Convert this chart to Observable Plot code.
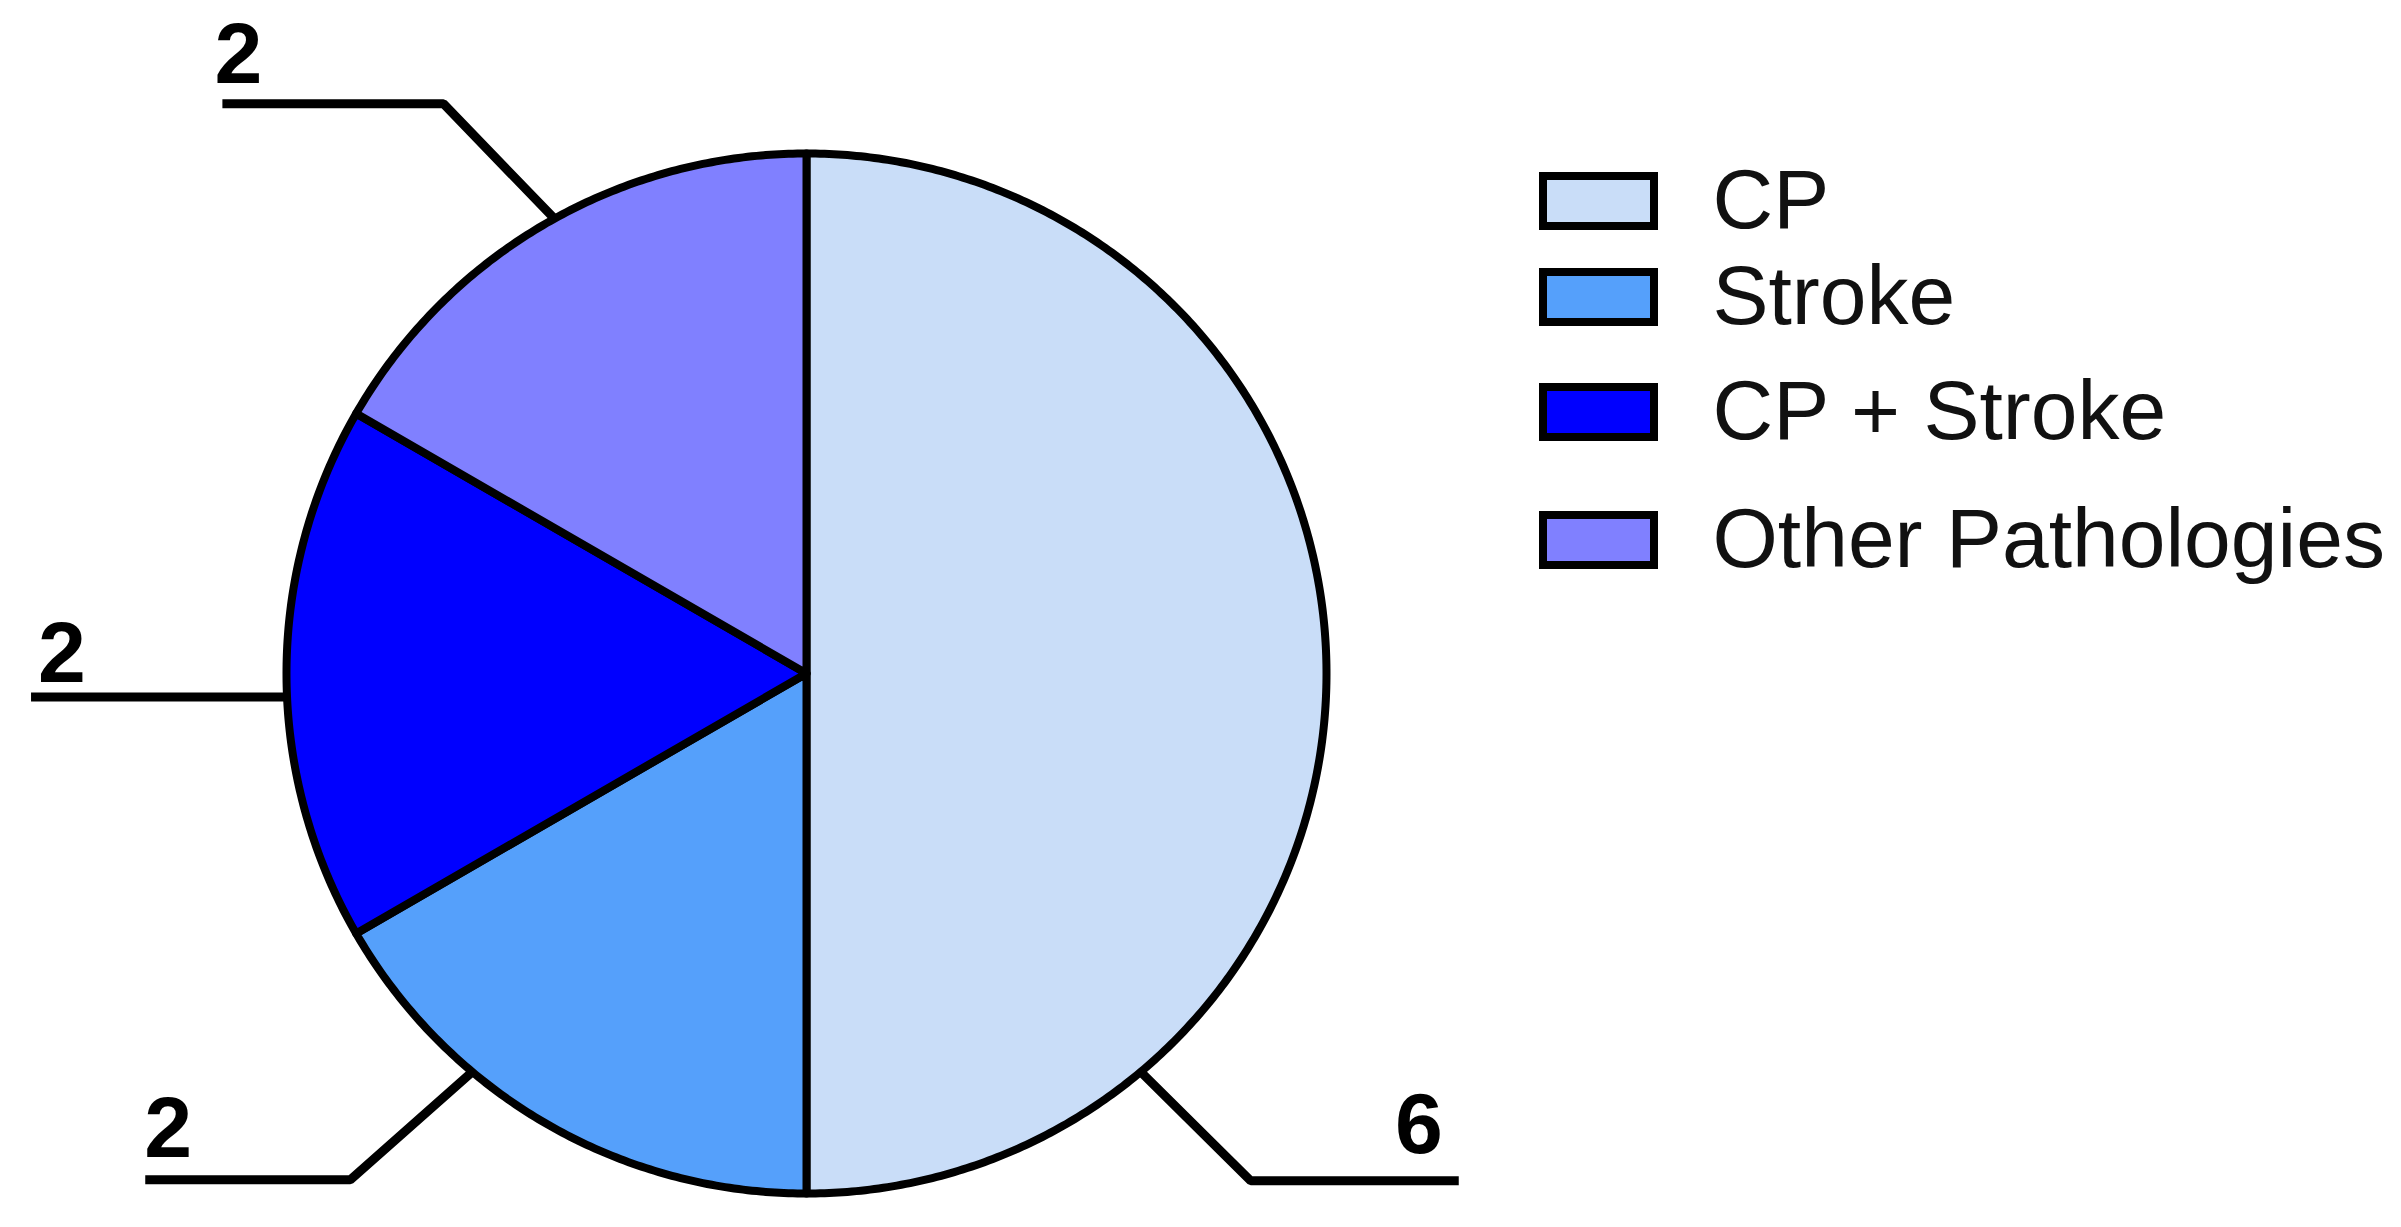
<!DOCTYPE html>
<html>
<head>
<meta charset="utf-8">
<script src="https://cdn.jsdelivr.net/npm/d3@7"></script>
<script src="https://cdn.jsdelivr.net/npm/@observablehq/plot@0.6"></script>
<style>
  html, body { margin: 0; padding: 0; background: #fff; }
  #chart svg { display: block; }
</style>
</head>
<body>
<div id="chart"></div>
<script>
// ---- data ----
const categories = ["CP", "Stroke", "CP + Stroke", "Other Pathologies"];
const counts = [6, 2, 2, 2];
const colors = ["#c9ddf8", "#55a0fb", "#0000ff", "#8080ff"];

// ---- layout ----
const W = 2401, H = 1227;
const cx = 806, cy = 673, R = 520;
// angle (deg, clockwise from top) where each leader leaves the pie
const leaderAngles = [140, 220, 267.4, 331];
// elbow offset (dx, dy) from anchor, then horizontal run length
const elbows = [[110, 109], [-122, 108], [0, 0], [-111, -115]];
const runs = [208, 205, 256, 221];
const labelDx = [-16, -1, 7, -8];
const labelDy = [28, 23, 15, 21];
const legendX = 1543, swatchW = 111, swatchH = 50, legendTextX = 1712;
const legendRowY = [201, 297, 412, 540];
const FONT = "'Liberation Sans', Arial, Helvetica, sans-serif";

const rows = categories.map((name, i) => ({name, count: counts[i], i}));
const arcs = d3.pie().sort(null).value(d => d.count).startAngle(0).endAngle(2 * Math.PI)(rows);

const px = a => cx + R * Math.sin(a);
const py = a => cy - R * Math.cos(a);

// slice outlines: center + arc samples
const slicePts = arcs.flatMap(a => {
  const n = Math.max(8, Math.ceil((a.endAngle - a.startAngle) / (Math.PI / 360)));
  const pts = [{name: a.data.name, x: cx, y: cy}];
  for (let k = 0; k <= n; k++) {
    const t = a.startAngle + (a.endAngle - a.startAngle) * k / n;
    pts.push({name: a.data.name, x: px(t), y: py(t)});
  }
  return pts;
});

// leader lines
const leaderPts = [];
const labels = [];
arcs.forEach((a, i) => {
  const ang = leaderAngles[i] * Math.PI / 180;
  const ax = px(ang), ay = py(ang);
  const kx = ax + elbows[i][0], ky = ay + elbows[i][1];
  const side = Math.sin(ang) >= 0 ? 1 : -1;
  const ex = kx + side * runs[i], ey = ky;
  leaderPts.push({name: a.data.name, x: ax, y: ay});
  if (elbows[i][0] !== 0 || elbows[i][1] !== 0) leaderPts.push({name: a.data.name, x: kx, y: ky});
  leaderPts.push({name: a.data.name, x: ex, y: ey});
  labels.push({
    name: a.data.name, value: a.data.count,
    x: ex + labelDx[i],
    y: ey - labelDy[i],
    anchor: side > 0 ? "end" : "start"
  });
});

const legendRows = categories.map((name, i) => ({name, y: legendRowY[i]}));

const chart = Plot.plot({
  width: W, height: H,
  margin: 0,
  x: {domain: [0, W], range: [0, W], axis: null},
  y: {domain: [0, H], range: [0, H], axis: null},
  color: {domain: categories, range: colors},
  style: {background: "#fff", fontFamily: FONT},
  marks: [
    Plot.line(slicePts, {x: "x", y: "y", z: "name", fill: "name", stroke: "black",
      strokeWidth: 8, curve: "linear-closed", strokeLinejoin: "round"}),
    Plot.line(leaderPts, {x: "x", y: "y", z: "name", stroke: "black",
      strokeWidth: 9, strokeLinejoin: "miter", strokeLinecap: "butt"}),
    Plot.text(labels.filter(d => d.anchor === "start"), {x: "x", y: "y", text: d => String(d.value),
      textAnchor: "start", lineAnchor: "bottom", fontSize: 86, fontWeight: "bold", fill: "black", fontFamily: FONT}),
    Plot.text(labels.filter(d => d.anchor === "end"), {x: "x", y: "y", text: d => String(d.value),
      textAnchor: "end", lineAnchor: "bottom", fontSize: 86, fontWeight: "bold", fill: "black", fontFamily: FONT}),
    Plot.rect(legendRows, {x1: () => legendX, x2: () => legendX + swatchW,
      y1: d => d.y - swatchH / 2, y2: d => d.y + swatchH / 2,
      fill: "name", stroke: "black", strokeWidth: 8}),
    Plot.text(legendRows, {x: () => legendTextX, y: "y", text: "name",
      textAnchor: "start", lineAnchor: "middle", fontSize: 84, fill: "#111", fontFamily: FONT})
  ]
});
document.getElementById("chart").appendChild(chart);
</script>
</body>
</html>
